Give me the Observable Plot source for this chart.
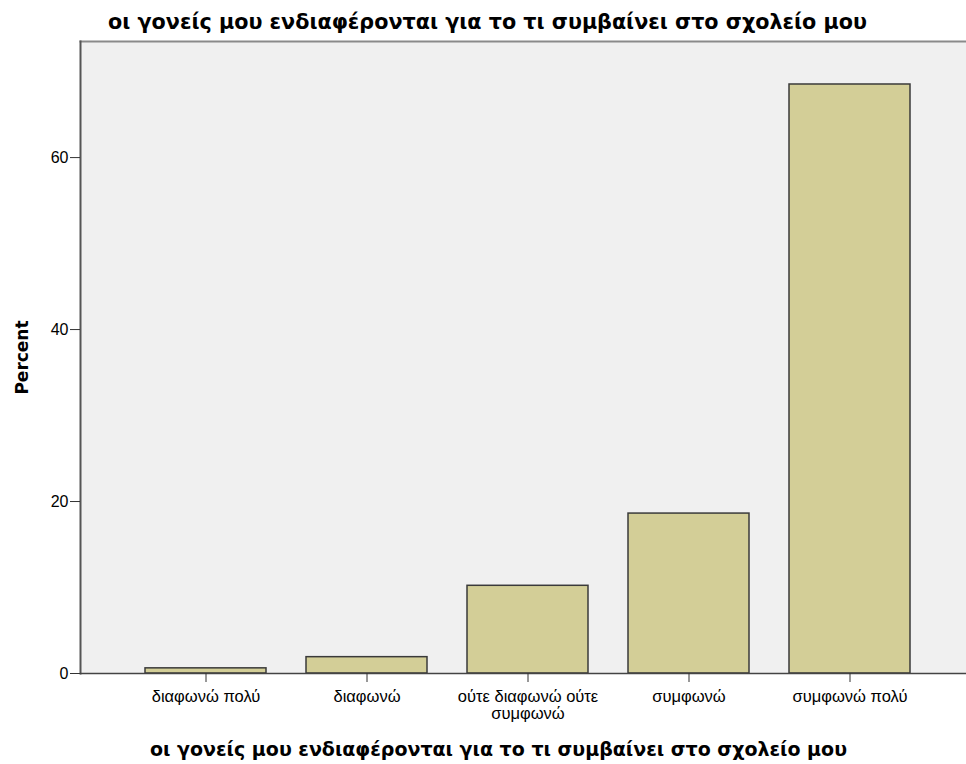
<!DOCTYPE html>
<html><head><meta charset="utf-8">
<script src="https://cdn.jsdelivr.net/npm/d3@7"></script>
<script src="https://cdn.jsdelivr.net/npm/@observablehq/plot@0.6"></script>
<style>body{margin:0;background:#fff}</style>
</head><body><div id="chart"></div>
<script>
const categories = ["διαφωνώ πολύ", "διαφωνώ", "ούτε διαφωνώ ούτε συμφωνώ", "συμφωνώ", "συμφωνώ πολύ"];
const percents = [0.6, 1.9, 10.2, 18.6, 68.5];
const yTicks = [0, 20, 40, 60];
const tickLabels = {"ούτε διαφωνώ ούτε συμφωνώ": "ούτε διαφωνώ ούτε\nσυμφωνώ"};
const title = "οι γονείς μου ενδιαφέρονται για το τι συμβαίνει στο σχολείο μου";
const xLabel = "οι γονείς μου ενδιαφέρονται για το τι συμβαίνει στο σχολείο μου";
const yLabel = "Percent";

const data = categories.map((c, i) => ({category: c, percent: percents[i]}));
const tickFont = "Liberation Sans, Arial, sans-serif";

const chart = Plot.plot({
  width: 966, height: 764,
  marginTop: 41, marginBottom: 91, marginLeft: 80, marginRight: 0,
  style: {fontFamily: "DejaVu Sans, sans-serif", background: "#fff", color: "#000"},
  x: {domain: categories, paddingInner: 0.25, paddingOuter: 0, insetLeft: 65, insetRight: 56},
  y: {domain: [0, 73.5]},
  marks: [
    Plot.frame({fill: "#f0f0f0", stroke: null}),
    Plot.barY(data, {x: "category", y: "percent", fill: "#d3ce97", stroke: "#3a3a3a", strokeWidth: 1.5}),
    Plot.frame({anchor: "top", stroke: "#8a8a8a", strokeWidth: 2}),
    Plot.frame({anchor: "left", stroke: "#555", strokeWidth: 2}),
    Plot.ruleY([0], {stroke: "#444", strokeWidth: 1.5}),
    Plot.axisY({ticks: yTicks, tickSize: 10, tickPadding: 2, fontSize: 16, fontFamily: tickFont, label: null, stroke: "#333"}),
    Plot.axisX({tickSize: 9, tickPadding: 7, fontSize: 16.5, fontFamily: tickFont, label: null, lineHeight: 1.05, stroke: "#333",
      tickFormat: d => tickLabels[d] ?? d}),
    Plot.text([yLabel], {frameAnchor: "left", dx: -58, rotate: -90, textAnchor: "middle", lineAnchor: "middle", fontWeight: "bold", fontSize: 17, fill: "#000"}),
    Plot.text([title], {frameAnchor: "top", dx: -36, dy: -19, lineAnchor: "middle", fontWeight: "bold", fontSize: 20.7, fill: "#000"}),
    Plot.text([xLabel], {frameAnchor: "bottom", dx: -25, dy: 76, lineAnchor: "middle", fontWeight: "bold", fontSize: 19, fill: "#000"})
  ]
});
document.getElementById("chart").append(chart);
</script>
</body></html>
